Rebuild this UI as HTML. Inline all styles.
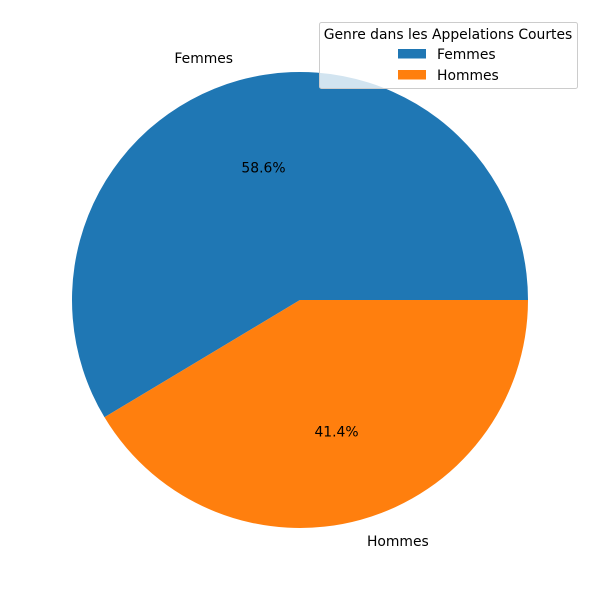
<!DOCTYPE html>
<html><head><meta charset="utf-8"><style>
body{margin:0;background:#fff}
svg{display:block;font-family:"DejaVu Sans","Liberation Sans",sans-serif;font-size:13.9px}
</style></head><body>
<svg id="chart" width="600" height="600" viewBox="0 0 600 600">
<g id="slices"></g>
<g id="labels"></g>
<g>
<rect x="319.5" y="22.5" width="258" height="66" rx="2" fill="#fff" fill-opacity="0.8" stroke="#ccc"/>
<text x="448" y="39" text-anchor="middle">Genre dans les Appelations Courtes</text>
<g id="legend-entries"></g>
</g>
</svg>
<script>
const categories = ["Femmes", "Hommes"];
const values = [58.6, 41.4];
const colors = ["#1f77b4", "#ff7f0e"];
const pctLabels = ["58.6%", "41.4%"];

const ns = "http://www.w3.org/2000/svg";
const cx = 300, cy = 300, R = 228;
const total = values.reduce((a, b) => a + b, 0);
function pt(angDeg, r) {
  const a = angDeg * Math.PI / 180;
  return [cx + r * Math.cos(a), cy - r * Math.sin(a)];
}
const slices = document.getElementById("slices");
const labels = document.getElementById("labels");
const legend = document.getElementById("legend-entries");
let start = 0;
values.forEach((v, i) => {
  const sweep = v / total * 360;
  const end = start + sweep;
  const [x1, y1] = pt(start, R), [x2, y2] = pt(end, R);
  const large = sweep > 180 ? 1 : 0;
  const p = document.createElementNS(ns, "path");
  p.setAttribute("d", `M${cx},${cy} L${x1},${y1} A${R},${R} 0 ${large} 0 ${x2},${y2} Z`);
  p.setAttribute("fill", colors[i]);
  
  
  slices.appendChild(p);

  const mid = start + sweep / 2;
  const [lx, ly] = pt(mid, R * 1.1);
  const t = document.createElementNS(ns, "text");
  t.setAttribute("x", lx);
  t.setAttribute("y", ly + 4.5);
  t.setAttribute("text-anchor", lx < cx ? "end" : "start");
  t.textContent = categories[i];
  
  
  labels.appendChild(t);

  const [px, py] = pt(mid, R * 0.6);
  const pt2 = document.createElementNS(ns, "text");
  pt2.setAttribute("x", px);
  pt2.setAttribute("y", py + 4.5);
  pt2.setAttribute("text-anchor", "middle");
  pt2.textContent = pctLabels[i];
  
  
  labels.appendChild(pt2);

  const ly0 = 49 + i * 21;
  const r = document.createElementNS(ns, "rect");
  r.setAttribute("x", 398); r.setAttribute("y", ly0);
  r.setAttribute("width", 28); r.setAttribute("height", 9.5);
  r.setAttribute("fill", colors[i]);
  
  
  legend.appendChild(r);
  const lt = document.createElementNS(ns, "text");
  lt.setAttribute("x", 437); lt.setAttribute("y", ly0 + 10);
  lt.textContent = categories[i];
  
  
  legend.appendChild(lt);

  start = end;
});
</script>
</body></html>
